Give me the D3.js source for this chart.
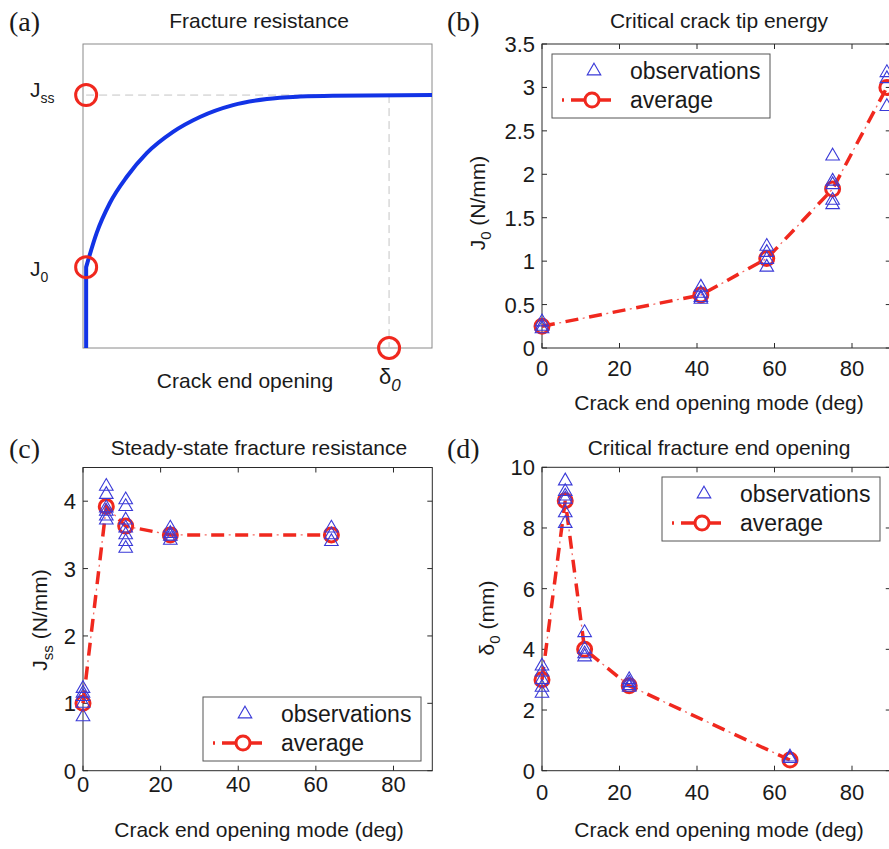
<!DOCTYPE html>
<html>
<head>
<meta charset="utf-8">
<script src="https://cdn.jsdelivr.net/npm/d3@7"></script>
<style>
  body { margin: 0; background: #fff; }
  svg { display: block; }
  text { font-family: "Liberation Sans", Arial, Helvetica, sans-serif; fill: #1a1a1a; }
  .plabel { font-family: "Liberation Serif", "Times New Roman", serif; }
</style>
</head>
<body>
<svg id="fig" width="889" height="849"></svg>
<script>
// ---------------- data ----------------
// (a) schematic resistance curve, normalised opening vs normalised resistance
const curveOpening    = [0.009, 0.039, 0.077, 0.125, 0.1825, 0.258, 0.335, 0.430, 0.527, 0.622, 0.716, 1.000];
const curveResistance = [0.266, 0.378, 0.477, 0.5625, 0.641, 0.711, 0.760, 0.799, 0.819, 0.827, 0.830, 0.832];
const schematicOrigin = 0.009;
const schematicJ0 = 0.266;
const schematicJss = 0.832;
const schematicDelta0 = 0.877;

// (b) critical crack tip energy J0 (N/mm) vs opening mode (deg)
const modesB = [0, 41, 58, 75, 89];
const j0Obs = [
  [0.30, 0.25, 0.22],
  [0.70, 0.63, 0.58, 0.56],
  [1.17, 1.10, 1.02, 0.93],
  [2.21, 1.92, 1.88, 1.70, 1.65],
  [3.17, 3.10, 2.78]
];
const j0Avg = [0.25, 0.61, 1.03, 1.83, 3.00];

// (c) and (d) share the opening modes
const modesCD = [0, 6, 11, 22.5, 64];
// (c) steady-state fracture resistance Jss (N/mm)
const jssObs = [
  [1.22, 1.15, 1.10, 1.00, 0.80],
  [4.22, 4.10, 3.90, 3.85, 3.78, 3.72],
  [4.02, 3.92, 3.72, 3.60, 3.50, 3.40, 3.30],
  [3.60, 3.52, 3.48, 3.42],
  [3.60, 3.50, 3.40]
];
const jssAvg = [1.00, 3.92, 3.63, 3.50, 3.50];
// (d) critical fracture end opening delta0 (mm)
const delta0Obs = [
  [3.45, 3.25, 3.00, 2.75, 2.55],
  [9.55, 9.20, 9.05, 8.95, 8.50, 8.15],
  [4.55, 4.00, 3.85, 3.75],
  [3.00, 2.90, 2.80, 2.75],
  [0.45, 0.40]
];
const delta0Avg = [3.00, 8.90, 4.00, 2.80, 0.35];

// tick values
const modeTicks = [0, 20, 40, 60, 80];
const j0Ticks = [0, 0.5, 1, 1.5, 2, 2.5, 3, 3.5];
const jssTicks = [0, 1, 2, 3, 4];
const delta0Ticks = [0, 2, 4, 6, 8, 10];

// ---------------- styles ----------------
const RED = "#f0281e";
const BLUE = "#3a3ad8";
const FRAME = "#2a2a2a";

const svg = d3.select("#fig");

// text helper with optional subscript parts: [[text, isSub, italic], ...]
function richText(g, parts, size, subSize) {
  parts.forEach(([t, sub, italic]) => {
    const ts = g.append("tspan").text(t);
    if (sub) ts.attr("font-size", subSize).attr("dy", size * 0.3);
    else if (g.selectAll("tspan").size() > 1) ts.attr("dy", -size * 0.3);
    if (italic) ts.attr("font-style", "italic");
  });
  return g;
}

// ---------------- panel (a) ----------------
(function panelA() {
  const x = d3.scaleLinear([0, 1], [83, 432]);
  const y = d3.scaleLinear([0, 1], [348, 44]);
  const g = svg.append("g");

  g.append("rect").attr("x", x(0)).attr("y", y(1))
    .attr("width", x(1) - x(0)).attr("height", y(0) - y(1))
    .attr("fill", "none").attr("stroke", "#8a8a8a").attr("stroke-width", 1);

  // guide lines
  g.append("line").attr("x1", x(schematicOrigin)).attr("x2", x(schematicDelta0))
    .attr("y1", y(schematicJss)).attr("y2", y(schematicJss))
    .attr("stroke", "#c4c4c4").attr("stroke-width", 1).attr("stroke-dasharray", "8,5");
  g.append("line").attr("x1", x(schematicDelta0)).attr("x2", x(schematicDelta0))
    .attr("y1", y(schematicJss)).attr("y2", y(0))
    .attr("stroke", "#c4c4c4").attr("stroke-width", 1).attr("stroke-dasharray", "8,5");

  // vertical rise up to J0, then the rising resistance curve
  const pts = curveOpening.map((d, i) => [d, curveResistance[i]]);
  const curvePath = d3.line().x(d => x(d[0])).y(d => y(d[1])).curve(d3.curveMonotoneX)(pts);
  const rise = `M${x(schematicOrigin)},${y(0)}L${x(schematicOrigin)},${y(schematicJ0)}`;
  g.append("path").attr("d", rise + "L" + curvePath.slice(1))
    .attr("fill", "none").attr("stroke", "#1233e6").attr("stroke-width", 4)
    .attr("stroke-linejoin", "round");

  const marks = [[schematicOrigin, schematicJss], [schematicOrigin, schematicJ0], [schematicDelta0, 0]];
  g.selectAll("circle.m").data(marks).join("circle")
    .attr("cx", d => x(d[0])).attr("cy", d => y(d[1])).attr("r", 10.5)
    .attr("fill", "none").attr("stroke", RED).attr("stroke-width", 3);

  richText(g.append("text").attr("x", 30).attr("y", 97).attr("font-size", 21),
    [["J"], ["ss", true]], 21, 14);
  richText(g.append("text").attr("x", 30).attr("y", 276).attr("font-size", 21),
    [["J"], ["0", true]], 21, 14);

  g.append("text").attr("x", 245).attr("y", 388).attr("text-anchor", "middle")
    .attr("font-size", 21).text("Crack end opening");
  richText(g.append("text").attr("x", 379).attr("y", 384).attr("font-size", 22),
    [["δ"], ["0", true, true]], 22, 17);

  g.append("text").attr("x", 259).attr("y", 28).attr("text-anchor", "middle")
    .attr("font-size", 21).text("Fracture resistance");
  g.append("text").attr("class", "plabel").attr("x", 9).attr("y", 31)
    .attr("font-size", 28).text("(a)");
})();

// ---------------- data panels ----------------
function dataPanel(o) {
  const x = d3.scaleLinear([0, 90], o.xr);
  const y = d3.scaleLinear([0, o.ymax], o.yr);
  const g = svg.append("g");
  const [x0, x1] = o.xr, [yb, yt] = o.yr;

  // frame
  g.append("rect").attr("x", x0).attr("y", yt).attr("width", x1 - x0).attr("height", yb - yt)
    .attr("fill", "none").attr("stroke", FRAME).attr("stroke-width", 1);

  // inward ticks on all four sides
  const tl = 5;
  o.xticks.forEach(v => {
    g.append("line").attr("x1", x(v)).attr("x2", x(v)).attr("y1", yb).attr("y2", yb - tl).attr("stroke", FRAME);
    g.append("line").attr("x1", x(v)).attr("x2", x(v)).attr("y1", yt).attr("y2", yt + tl).attr("stroke", FRAME);
    g.append("text").attr("x", x(v)).attr("y", yb + o.xtickDy).attr("text-anchor", "middle")
      .attr("font-size", 22).text(v);
  });
  o.yticks.forEach(v => {
    g.append("line").attr("x1", x0).attr("x2", x0 + tl).attr("y1", y(v)).attr("y2", y(v)).attr("stroke", FRAME);
    g.append("line").attr("x1", x1).attr("x2", x1 - tl).attr("y1", y(v)).attr("y2", y(v)).attr("stroke", FRAME);
    g.append("text").attr("x", x0 - 7).attr("y", y(v) + 8).attr("text-anchor", "end")
      .attr("font-size", 22).text(v);
  });

  // average line, dash-dot: heavy dashes plus fine dots between them
  const avgPts = o.modes.map((m, i) => [m, o.avg[i]]);
  const line = d3.line().x(d => x(d[0])).y(d => y(d[1]));
  g.append("path").datum(avgPts).attr("d", line).attr("fill", "none")
    .attr("stroke", RED).attr("stroke-width", 3.5).attr("stroke-dasharray", "13,11");
  g.append("path").datum(avgPts).attr("d", line).attr("fill", "none")
    .attr("stroke", RED).attr("stroke-width", 1.3).attr("stroke-opacity", 0.7)
    .attr("stroke-dasharray", "2,22").attr("stroke-dashoffset", -17.5);

  g.selectAll("circle.avg").data(avgPts).join("circle")
    .attr("cx", d => x(d[0])).attr("cy", d => y(d[1])).attr("r", 7)
    .attr("fill", "none").attr("stroke", RED).attr("stroke-width", 3);

  // observations
  const tri = d3.symbol(d3.symbolTriangle, 80);
  const obsPts = o.modes.flatMap((m, i) => o.obs[i].map(v => [m, v]));
  g.selectAll("path.obs").data(obsPts).join("path")
    .attr("transform", d => `translate(${x(d[0])},${y(d[1])})`)
    .attr("d", tri).attr("fill", "none").attr("stroke", BLUE).attr("stroke-width", 1.1);

  // legend
  const [lx, ly] = o.legend;
  const lg = g.append("g").attr("transform", `translate(${lx},${ly})`);
  lg.append("rect").attr("width", 218).attr("height", 64).attr("fill", "#fff")
    .attr("stroke", "#555").attr("stroke-width", 1);
  lg.append("path").attr("transform", "translate(42,17)").attr("d", tri)
    .attr("fill", "none").attr("stroke", BLUE).attr("stroke-width", 1.1);
  lg.append("text").attr("x", 78).attr("y", 25).attr("font-size", 23).text("observations");
  lg.append("line").attr("x1", 10).attr("x2", 70).attr("y1", 46).attr("y2", 46)
    .attr("stroke", RED).attr("stroke-width", 3.5).attr("stroke-dasharray", "2,7,40,11");
  lg.append("circle").attr("cx", 40).attr("cy", 46).attr("r", 7)
    .attr("fill", "#fff").attr("stroke", RED).attr("stroke-width", 3);
  lg.append("text").attr("x", 78).attr("y", 54).attr("font-size", 23).text("average");

  // titles and labels
  g.append("text").attr("x", o.cx).attr("y", o.titleY).attr("text-anchor", "middle")
    .attr("font-size", 21).text(o.title);
  g.append("text").attr("x", o.cx).attr("y", o.xlabelY).attr("text-anchor", "middle")
    .attr("font-size", 21).text("Crack end opening mode (deg)");
  const yl = g.append("text").attr("text-anchor", "middle").attr("font-size", 21)
    .attr("transform", `translate(${o.ylabel[0]},${o.ylabel[1]}) rotate(-90)`);
  richText(yl, o.ylabelParts, 21, 15);
  g.append("text").attr("class", "plabel").attr("x", o.plabel[0]).attr("y", o.plabel[1])
    .attr("font-size", 28).text(o.plabelText);
}

dataPanel({
  xr: [542, 890.75], yr: [348, 44], ymax: 3.5,
  modes: modesB, obs: j0Obs, avg: j0Avg,
  xticks: modeTicks, yticks: j0Ticks, xtickDy: 28,
  legend: [552, 54],
  cx: 719, titleY: 28, xlabelY: 410, title: "Critical crack tip energy",
  ylabel: [485, 203], ylabelParts: [["J"], ["0", true], [" (N/mm)"]],
  plabel: [447, 31], plabelText: "(b)"
});

dataPanel({
  xr: [83, 432.3], yr: [770.7, 467.5], ymax: 4.5,
  modes: modesCD, obs: jssObs, avg: jssAvg,
  xticks: modeTicks, yticks: jssTicks, xtickDy: 21,
  legend: [203, 697],
  cx: 259, titleY: 455, xlabelY: 837, title: "Steady-state fracture resistance",
  ylabel: [47, 620], ylabelParts: [["J"], ["ss", true], [" (N/mm)"]],
  plabel: [9, 458], plabelText: "(c)"
});

dataPanel({
  xr: [542, 890.75], yr: [770.7, 467.3], ymax: 10,
  modes: modesCD, obs: delta0Obs, avg: delta0Avg,
  xticks: modeTicks, yticks: delta0Ticks, xtickDy: 29,
  legend: [662, 477],
  cx: 719, titleY: 455, xlabelY: 837, title: "Critical fracture end opening",
  ylabel: [494, 618], ylabelParts: [["δ"], ["0", true], [" (mm)"]],
  plabel: [447, 458], plabelText: "(d)"
});
</script>
</body>
</html>
